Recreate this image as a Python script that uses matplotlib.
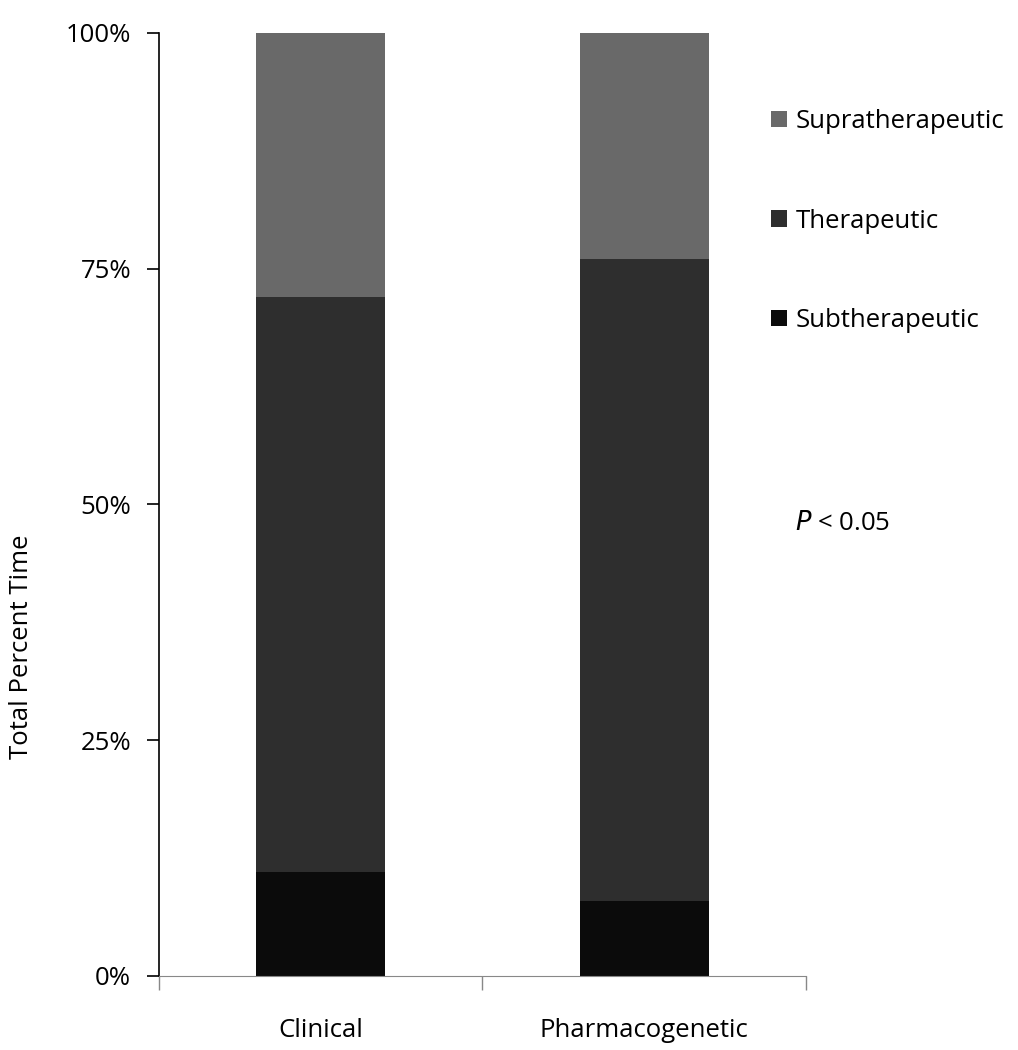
import matplotlib.pyplot as plt
import numpy as np

plt.rcParams['font.family'] = ['Open Sans', 'DejaVu Sans']

groups = ['Clinical', 'Pharmacogenetic']
subtherapeutic = [11, 8]
therapeutic = [61, 68]
supratherapeutic = [28, 24]
colors = ['#0b0b0b', '#2e2e2e', '#696969']
y_ticks = [0, 25, 50, 75, 100]
y_tick_labels = ['0%', '25%', '50%', '75%', '100%']

FS = 18.5


def create_plot():
    fig = plt.figure(figsize=(10.18, 10.5), dpi=100)
    ax = fig.add_axes([0.1562, 0.0705, 0.6355, 0.8981])
    x = np.arange(len(groups))
    sub = np.array(subtherapeutic)
    ther = np.array(therapeutic)
    sup = np.array(supratherapeutic)

    b1 = ax.bar(x, sub, width=0.4, color=colors[0], label='Subtherapeutic')
    b2 = ax.bar(x, ther, width=0.4, bottom=sub, color=colors[1], label='Therapeutic')
    b3 = ax.bar(x, sup, width=0.4, bottom=sub + ther, color=colors[2], label='Supratherapeutic')

    ax.set_xlim(-0.5, 1.5)
    ax.set_ylim(0, 100)
    ax.set_yticks(y_ticks)
    ax.set_yticklabels(y_tick_labels, fontsize=FS)
    ax.tick_params(axis='y', length=9, width=1.2, pad=11, colors='black')

    ax.set_xticks(x)
    ax.set_xticklabels(groups, fontsize=FS)
    ax.tick_params(axis='x', which='major', length=0, pad=30)
    ax.set_xticks([-0.5, 0.5, 1.5], minor=True)
    ax.tick_params(axis='x', which='minor', length=10, width=1, color='#888888')

    for side in ['top', 'right']:
        ax.spines[side].set_visible(False)
    ax.spines['bottom'].set_color('#888888')
    ax.spines['left'].set_linewidth(1.2)

    fig.text(22 / 1018, 1 - 647 / 1050, 'Total Percent Time', rotation=90,
             ha='center', va='center', fontsize=FS)

    fig.legend([b3, b2, b1], ['Supratherapeutic', 'Therapeutic', 'Subtherapeutic'],
               loc='upper left', bbox_to_anchor=(748 / 1018, 1 - 86 / 1050),
               frameon=False, fontsize=FS, handlelength=0.6, handleheight=0.6,
               handletextpad=0.35, labelspacing=2.9)

    fig.text(795 / 1018, 1 - 523 / 1050, '$P$ < 0.05', ha='left', va='center', fontsize=FS)

    plt.savefig('out.png', dpi=100)


if __name__ == "__main__":
    create_plot()
